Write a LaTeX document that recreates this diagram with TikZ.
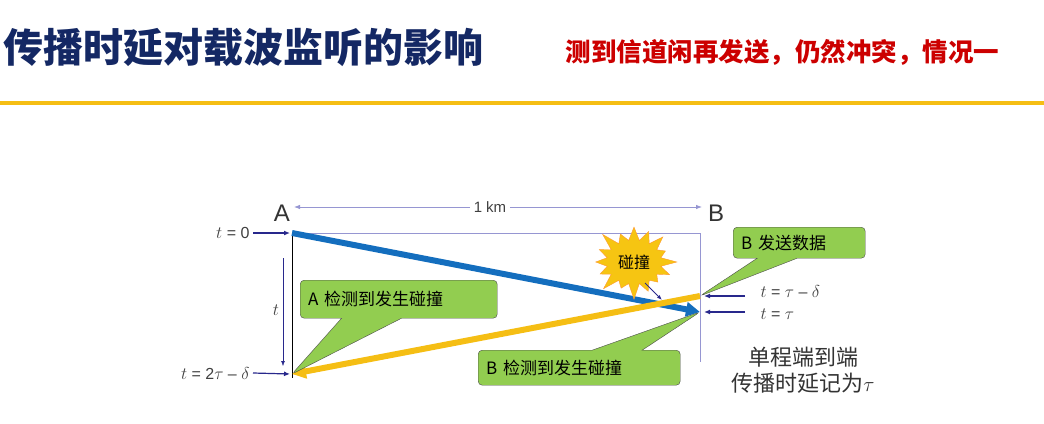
\documentclass[tikz,border=0pt]{standalone}
\usepackage{fontspec}
\setmainfont{Liberation Sans}
\newfontfamily\cjk{Noto Sans CJK SC}
\usetikzlibrary{shapes.callouts,shapes.symbols,arrows.meta}
\definecolor{navy}{RGB}{20,40,100}
\definecolor{gold}{RGB}{245,190,20}
\definecolor{bblue}{RGB}{20,110,190}
\definecolor{lgreen}{RGB}{146,205,80}
\definecolor{lpur}{RGB}{150,150,210}
\definecolor{darr}{RGB}{40,40,140}
\tikzset{
 cbox/.style={rectangle callout,fill=lgreen,draw=black!70,rounded corners=4pt,font=\cjk\fontsize{17}{19}\selectfont,inner xsep=8pt,anchor=north west,align=left,callout pointer width=40pt},
 tlab/.style={font=\fontsize{16}{18}\selectfont,text=black!75},
 tarr/.style={-{Latex[length=6pt,width=5pt]},darr,line width=1.2pt},
}
\begin{document}
\begin{tikzpicture}[x=1pt,y=-1pt]
\useasboundingbox (0,0) rectangle (1044,423);
\node[font=\cjk\bfseries\fontsize{40}{44}\selectfont,text=navy,anchor=west] (title) at (0,47) {传播时延对载波监听的影响};
\node[font=\cjk\bfseries\fontsize{25.5}{28}\selectfont,text=red!80!black,anchor=west] (sub) at (562,52) {测到信道闲再发送，仍然冲突，情况一};
\draw[gold,line width=4pt] (0,103) -- (1044,103);
\coordinate (A0) at (292,233); \coordinate (B0) at (700,233);
\coordinate (Ab) at (292,378); \coordinate (Bb) at (700,362);
\coordinate (Bs) at (700,296); \coordinate (Bt) at (700,312);
\coordinate (Ae) at (292,374);
\node[font=\fontsize{24}{26}\selectfont,text=black!80] (A) at (282,213) {A};
\node[font=\fontsize{24}{26}\selectfont,text=black!80] (B) at (716,213) {B};
\node[font=\fontsize{15}{17}\selectfont,text=black!75] (km) at (490,207) {1 km};
\draw[-{Latex[length=6pt]},lpur,thick] (km.west) -- (294,207);
\draw[-{Latex[length=6pt]},lpur,thick] (km.east) -- (702,207);
\draw[lpur,line width=1pt] (A0) -- (B0) -- (Bb);
\draw[black,line width=1pt] (A0) -- (Ab);
\draw[bblue,line width=6pt,-{Triangle[length=14pt,width=14pt]}] (A0) -- (Bt);
\draw[gold,line width=6pt,-{Triangle[length=14pt,width=14pt]}] (Bs) -- (Ae);
\draw[darr,-{Latex[length=5pt]},thin] (283,258) -- (283,366);
\node[tlab] (tt) at (276,310) {$t$};
\node[tlab,anchor=east] (t0) at (253,233) {$t$ = 0};
\draw[tarr] (t0.east) -- (290,233);
\node[tlab,anchor=east] (t2) at (253,373) {$t$ = 2$\tau$ -- $\delta$};
\draw[tarr] (t2.east) -- (290,374);
\node[tlab,anchor=west] (t1) at (757,291) {$t$ = $\tau$ -- $\delta$};
\draw[tarr] (745,296) -- (704,296);
\node[tlab,anchor=west] (t3) at (757,314) {$t$ = $\tau$};
\draw[tarr] (745,312) -- (704,312);
\node[cbox,callout absolute pointer={(Bs)},text width=116pt,minimum height=31pt] (cb) at (733,227) {B 发送数据};
\node[cbox,callout absolute pointer={(Ae)},text width=181pt,minimum height=38pt,callout pointer width=60pt] (ca) at (300,280) {A 检测到发生碰撞};
\node[cbox,callout absolute pointer={(Bt)},text width=186pt,minimum height=35pt,callout pointer width=50pt] (cc) at (478,350) {B 检测到发生碰撞};
\node[starburst,starburst points=16,starburst point height=18pt,fill=gold!90!yellow,draw=orange!80!white,minimum width=90pt,minimum height=80pt,font=\cjk\fontsize{16}{18}\selectfont] (col) at (634,262) {碰撞};
\draw[darr,-{Latex[length=5pt]},thick] (645,283) -- (662,300);
\node[font=\cjk\fontsize{22}{26}\selectfont,text=black!80,align=center] (note) at (803,370) {单程端到端\\传播时延记为$\tau$};
\end{tikzpicture}
\end{document}
